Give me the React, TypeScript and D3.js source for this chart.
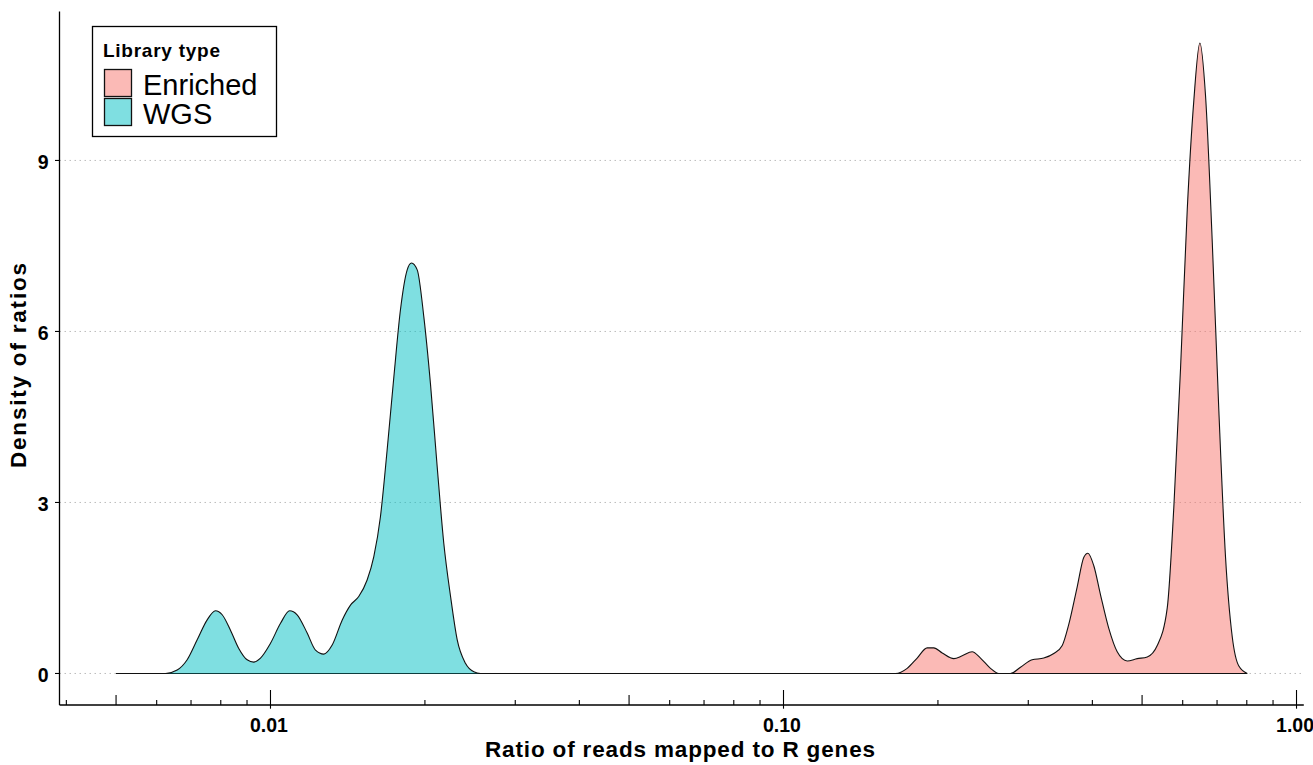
import React from "react";
import * as d3 from "d3";

// Library types shown in the legend, in order
const libraryTypes = ["Enriched", "WGS"];
const fillColors = ["#F8766D", "#00BFC4"];

// Density estimate of read ratios, WGS libraries
const wgsRatio = [
  0.005, 0.006242, 0.006578, 0.00688, 0.007196, 0.007526, 0.007812, 0.008051,
  0.008356, 0.008673, 0.009006, 0.009278, 0.009561, 0.01, 0.01046, 0.0109,
  0.01127, 0.01179, 0.01224, 0.0127, 0.01319, 0.0138, 0.01432, 0.01486,
  0.01543, 0.0159, 0.01638, 0.01688, 0.0174, 0.01792, 0.01847, 0.01883,
  0.01932, 0.0199, 0.0205, 0.02113, 0.02177, 0.02244, 0.02312, 0.02399,
  0.02491, 0.02567, 0.8016,
];
const wgsDensity = [
  0, 0, 0.06, 0.24, 0.59, 0.94, 1.1, 1.03, 0.76, 0.44, 0.24, 0.2, 0.27, 0.53,
  0.88, 1.1, 1.03, 0.71, 0.41, 0.34, 0.5, 0.94, 1.2, 1.35, 1.64, 2.05, 2.75,
  3.92, 5.21, 6.38, 7.08, 7.2, 7.08, 6.26, 5.09, 3.63, 2.28, 1.35, 0.59, 0.18,
  0.03, 0, 0,
];

// Density estimate of read ratios, enriched libraries
const enrichedRatio = [
  0.005, 0.1653, 0.1742, 0.1822, 0.1906, 0.1963, 0.2039, 0.2148, 0.223,
  0.2332, 0.2421, 0.2532, 0.2628, 0.277, 0.2897, 0.3053, 0.3216, 0.3364,
  0.3494, 0.3598, 0.3737, 0.385, 0.392, 0.4026, 0.4149, 0.4306, 0.4472,
  0.4677, 0.4892, 0.5117, 0.5352, 0.5598, 0.5766, 0.5942, 0.6124, 0.6307,
  0.648, 0.6648, 0.6852, 0.7057, 0.7272, 0.7495, 0.772, 0.8016,
];
const enrichedDensity = [
  0, 0, 0.09, 0.27, 0.45, 0.45, 0.36, 0.26, 0.31, 0.38, 0.27, 0.09, 0, 0, 0.11,
  0.24, 0.27, 0.35, 0.49, 0.86, 1.52, 2.04, 2.11, 1.89, 1.38, 0.79, 0.38, 0.22,
  0.26, 0.29, 0.49, 1.15, 2.92, 5.35, 8.14, 10.05, 11.06, 10.13, 7.56, 4.61,
  2.04, 0.64, 0.13, 0,
];

// Axis breaks and labels
const xBreaks = [0.01, 0.1, 1];
const xLabels = ["0.01", "0.10", "1.00"];
const yBreaks = [0, 3, 6, 9];

const W = 1313;
const H = 765;
const panel = { left: 59.5, right: 1303.8, top: 11.5, bottom: 705 };
const FONT = "'Liberation Sans', Arial, sans-serif";

export default function App() {
  const allRatio = [...wgsRatio, ...enrichedRatio];
  const allDensity = [...wgsDensity, ...enrichedDensity];
  const [rMin, rMax] = d3.extent(allRatio) as [number, number];
  const lo = Math.log10(rMin);
  const hi = Math.log10(rMax);
  const padX = (hi - lo) * 0.05;
  const x = d3
    .scaleLog()
    .domain([Math.pow(10, lo - padX), Math.pow(10, hi + padX)])
    .range([panel.left, panel.right]);

  const dMax = d3.max(allDensity) as number;
  const y = d3
    .scaleLinear()
    .domain([-dMax * 0.05, dMax * 1.05])
    .range([panel.bottom, panel.top]);

  const series = [
    { name: "Enriched", ratio: enrichedRatio, density: enrichedDensity, color: fillColors[0] },
    { name: "WGS", ratio: wgsRatio, density: wgsDensity, color: fillColors[1] },
  ];

  const area = d3
    .area<[number, number]>()
    .x((d) => x(d[0]))
    .y0(y(0))
    .y1((d) => y(d[1]))
    .curve(d3.curveMonotoneX);
  const line = d3
    .line<[number, number]>()
    .x((d) => x(d[0]))
    .y((d) => y(d[1]))
    .curve(d3.curveMonotoneX);

  // log ticks: long at decades, mid at 5s, short elsewhere
  const [dLo, dHi] = x.domain();
  const logTicks: { v: number; len: number }[] = [];
  for (let e = -4; e <= 1; e++) {
    for (let k = 1; k <= 9; k++) {
      const v = k * Math.pow(10, e);
      if (v >= dLo && v <= dHi) {
        logTicks.push({ v, len: k === 1 ? 15 : k === 5 ? 10 : 5 });
      }
    }
  }

  return (
    <svg
      width={W}
      height={H}
      style={{ position: "absolute", left: 0, top: 0, background: "#fff" }}
      fontFamily={FONT}
    >
      <rect x={0} y={0} width={W} height={H} fill="#fff" />

      {/* horizontal grid */}
      {yBreaks.map((b) => (
        <line
          key={"g" + b}
          x1={panel.left}
          x2={panel.right}
          y1={y(b)}
          y2={y(b)}
          stroke="#bdbdbd"
          strokeWidth={1}
          strokeDasharray="1.5,3.5"
        />
      ))}

      {/* density areas */}
      {series.map((s) => {
        const pts = s.ratio.map((r, i) => [r, s.density[i]] as [number, number]);
        return (
          <g key={s.name}>
            <path d={area(pts) || ""} fill={s.color} fillOpacity={0.5} stroke="none" />
            <path d={line(pts) || ""} fill="none" stroke="#111" strokeWidth={1.1} />
          </g>
        );
      })}

      {/* log ticks along the bottom of the panel */}
      {logTicks.map((t, i) => (
        <line
          key={"lt" + i}
          x1={x(t.v)}
          x2={x(t.v)}
          y1={panel.bottom}
          y2={panel.bottom - t.len}
          stroke="#000"
          strokeWidth={1.1}
        />
      ))}

      {/* axes */}
      <line x1={panel.left} x2={panel.right} y1={panel.bottom} y2={panel.bottom} stroke="#000" strokeWidth={1.3} />
      <line x1={panel.left} x2={panel.left} y1={panel.top} y2={panel.bottom} stroke="#000" strokeWidth={1.3} />

      {xBreaks.map((b, i) => (
        <g key={"xt" + b}>
          <line x1={x(b)} x2={x(b)} y1={panel.bottom} y2={panel.bottom + 3.7} stroke="#000" strokeWidth={1.1} />
          <text
            x={x(b) - 1.5}
            y={731.7}
            textAnchor="middle"
            fontWeight="bold"
            fontSize={19.5}
            fill="#000"
          >
            {xLabels[i]}
          </text>
        </g>
      ))}

      {yBreaks.map((b) => (
        <g key={"yt" + b}>
          <line x1={panel.left - 4.5} x2={panel.left} y1={y(b)} y2={y(b)} stroke="#000" strokeWidth={1.1} />
          <text
            x={48.5}
            y={y(b) + 1.5}
            dy="0.36em"
            textAnchor="end"
            fontWeight="bold"
            fontSize={19.5}
            fill="#000"
          >
            {b}
          </text>
        </g>
      ))}

      {/* axis titles */}
      <text
        x={680}
        y={757}
        textAnchor="middle"
        fontWeight="bold"
        fontSize={22.5}
        textLength={390}
        fill="#000"
      >
        Ratio of reads mapped to R genes
      </text>
      <text
        transform={`translate(26,365.5) rotate(-90)`}
        textAnchor="middle"
        fontWeight="bold"
        fontSize={22.5}
        textLength={205}
        fill="#000"
      >
        Density of ratios
      </text>

      {/* legend */}
      <g>
        <rect x={92.5} y={26.5} width={184} height={110} fill="#fff" stroke="#000" strokeWidth={1.3} />
        <text x={103} y={56.5} fontWeight="bold" fontSize={19} textLength={117} fill="#000">
          Library type
        </text>
        {libraryTypes.map((name, i) => (
          <g key={"lg" + name}>
            <rect
              x={104.5}
              y={69.5 + i * 29}
              width={27}
              height={27}
              fill={fillColors[i]}
              fillOpacity={0.5}
              stroke="#111"
              strokeWidth={1.3}
            />
            <text x={143} y={95 + i * 29} fontSize={29} fill="#000">
              {name}
            </text>
          </g>
        ))}
      </g>
    </svg>
  );
}
